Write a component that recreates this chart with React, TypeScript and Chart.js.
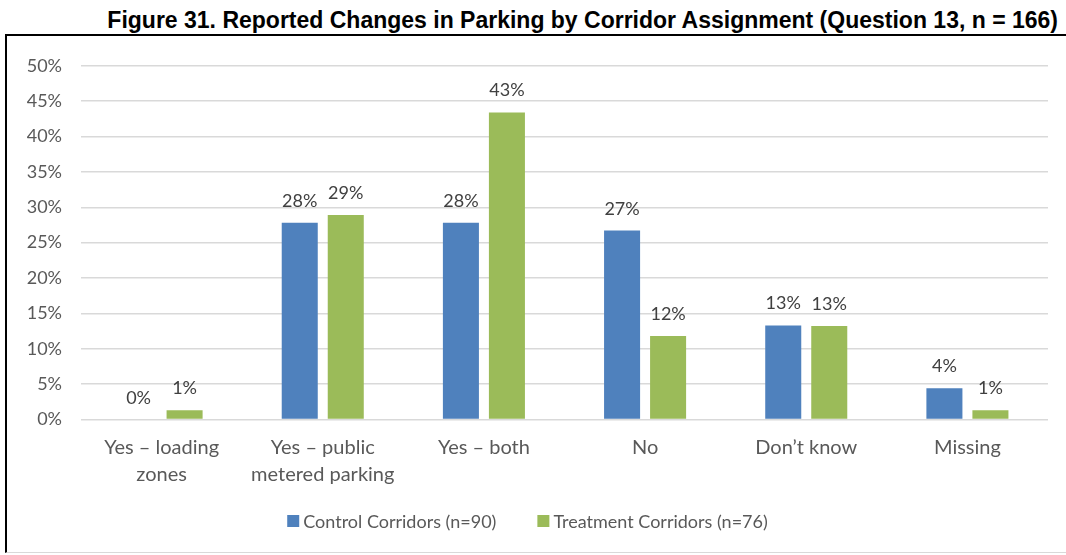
import React, { useEffect, useRef } from 'react';
import { Chart, registerables } from 'chart.js';

Chart.register(...registerables);

const titleText = 'Figure 31. Reported Changes in Parking by Corridor Assignment (Question 13, n = 166)';
const categories: (string | string[])[] = [
  ['Yes – loading', 'zones'],
  ['Yes – public', 'metered parking'],
  'Yes – both',
  'No',
  'Don’t know',
  'Missing',
];
const seriesNames = ['Control Corridors (n=90)', 'Treatment Corridors (n=76)'];
const controlValues = [0, 27.8, 27.8, 26.7, 13.3, 4.4];
const treatmentValues = [1.3, 28.9, 43.4, 11.8, 13.2, 1.3];
const yMin = 0;
const yMax = 50;
const yStep = 5;

const FONT = 'Lato';
const TEXT_COLOR = '#595959';
const LABEL_COLOR = '#404040';
const BLUE = '#4f81bd';
const GREEN = '#9bbb59';

const CANVAS_W = 1059;
const CANVAS_H = 516;

const dataLabelPlugin = {
  id: 'dataLabels',
  afterDatasetsDraw(chart: any) {
    const ctx = chart.ctx;
    ctx.save();
    ctx.font = `18px ${FONT}`;
    ctx.fillStyle = LABEL_COLOR;
    ctx.textAlign = 'center';
    ctx.textBaseline = 'alphabetic';
    chart.data.datasets.forEach((ds: any, i: number) => {
      chart.getDatasetMeta(i).data.forEach((bar: any, j: number) => {
        const v = ds.data[j];
        ctx.fillText(Math.round(v) + '%', bar.x, bar.y - 16);
      });
    });
    ctx.restore();
  },
};

const legendPlugin = {
  id: 'customLegend',
  afterDraw(chart: any) {
    const ctx = chart.ctx;
    ctx.save();
    ctx.font = `18px ${FONT}`;
    const box = 12;
    const gap = 4;
    const itemGap = 41;
    const items = chart.data.datasets.map((ds: any) => ({
      label: ds.label,
      color: ds.backgroundColor,
      w: ctx.measureText(ds.label).width,
    }));
    const total =
      items.reduce((s: number, it: any) => s + box + gap + it.w, 0) + itemGap * (items.length - 1);
    let x = 520.5 - total / 2;
    const cy = 485;
    ctx.textBaseline = 'middle';
    ctx.textAlign = 'left';
    items.forEach((it: any) => {
      ctx.fillStyle = it.color;
      ctx.fillRect(x, cy - box / 2, box, box);
      x += box + gap;
      ctx.fillStyle = TEXT_COLOR;
      ctx.fillText(it.label, x, cy + 1);
      x += it.w + itemGap;
    });
    ctx.restore();
  },
};

export default function App() {
  const canvasRef = useRef<HTMLCanvasElement | null>(null);

  useEffect(() => {
    document.body.style.margin = '0';
    document.body.style.overflow = 'hidden';
    const canvas = canvasRef.current;
    if (!canvas) return;
    const chart = new Chart(canvas, {
      type: 'bar',
      data: {
        labels: categories,
        datasets: [
          {
            label: seriesNames[0],
            data: controlValues,
            backgroundColor: BLUE,
            categoryPercentage: 0.571,
            barPercentage: 0.783,
          },
          {
            label: seriesNames[1],
            data: treatmentValues,
            backgroundColor: GREEN,
            categoryPercentage: 0.571,
            barPercentage: 0.783,
          },
        ],
      },
      options: {
        responsive: false,
        animation: false,
        devicePixelRatio: 1,
        layout: { padding: { left: 0, right: 18, top: 27, bottom: 0 } },
        plugins: {
          legend: { display: false },
          tooltip: { enabled: false },
          title: { display: false },
        },
        scales: {
          x: {
            grid: { display: false, drawTicks: false },
            border: { display: false },
            ticks: {
              color: TEXT_COLOR,
              font: { family: FONT, size: 20, lineHeight: 1.35 },
              padding: 15,
              maxRotation: 0,
              autoSkip: false,
            },
            afterFit(scale: any) {
              scale.height = 132.5;
            },
          },
          y: {
            min: yMin,
            max: yMax,
            grid: { color: '#d9d9d9', lineWidth: 1.5, drawTicks: false },
            border: { display: false },
            ticks: {
              stepSize: yStep,
              color: TEXT_COLOR,
              font: { family: FONT, size: 18 },
              padding: 19,
              callback: (v: any) => v + '%',
            },
            afterFit(scale: any) {
              scale.width = 74;
            },
          },
        },
      },
      plugins: [dataLabelPlugin, legendPlugin],
    });
    return () => chart.destroy();
  }, []);

  return (
    <div style={{ position: 'relative', width: 1066, height: 555, background: '#fff', overflow: 'hidden' }}>
      <div
        style={{
          position: 'absolute',
          top: 8,
          right: 8,
          fontFamily: '"Liberation Sans", Arial, sans-serif',
          fontWeight: 'bold',
          fontSize: 23,
          lineHeight: '24px',
          color: '#000',
          whiteSpace: 'nowrap',
        }}
      >
        {titleText}
      </div>
      <div
        style={{
          position: 'absolute',
          top: 34,
          left: 5,
          width: CANVAS_W,
          height: CANVAS_H,
          borderTop: '2px solid #000',
          borderLeft: '2px solid #000',
          borderBottom: '1px solid #d9d9d9',
        }}
      >
        <canvas
          ref={canvasRef}
          width={CANVAS_W}
          height={CANVAS_H}
          style={{ display: 'block', width: CANVAS_W, height: CANVAS_H }}
        />
      </div>
    </div>
  );
}
